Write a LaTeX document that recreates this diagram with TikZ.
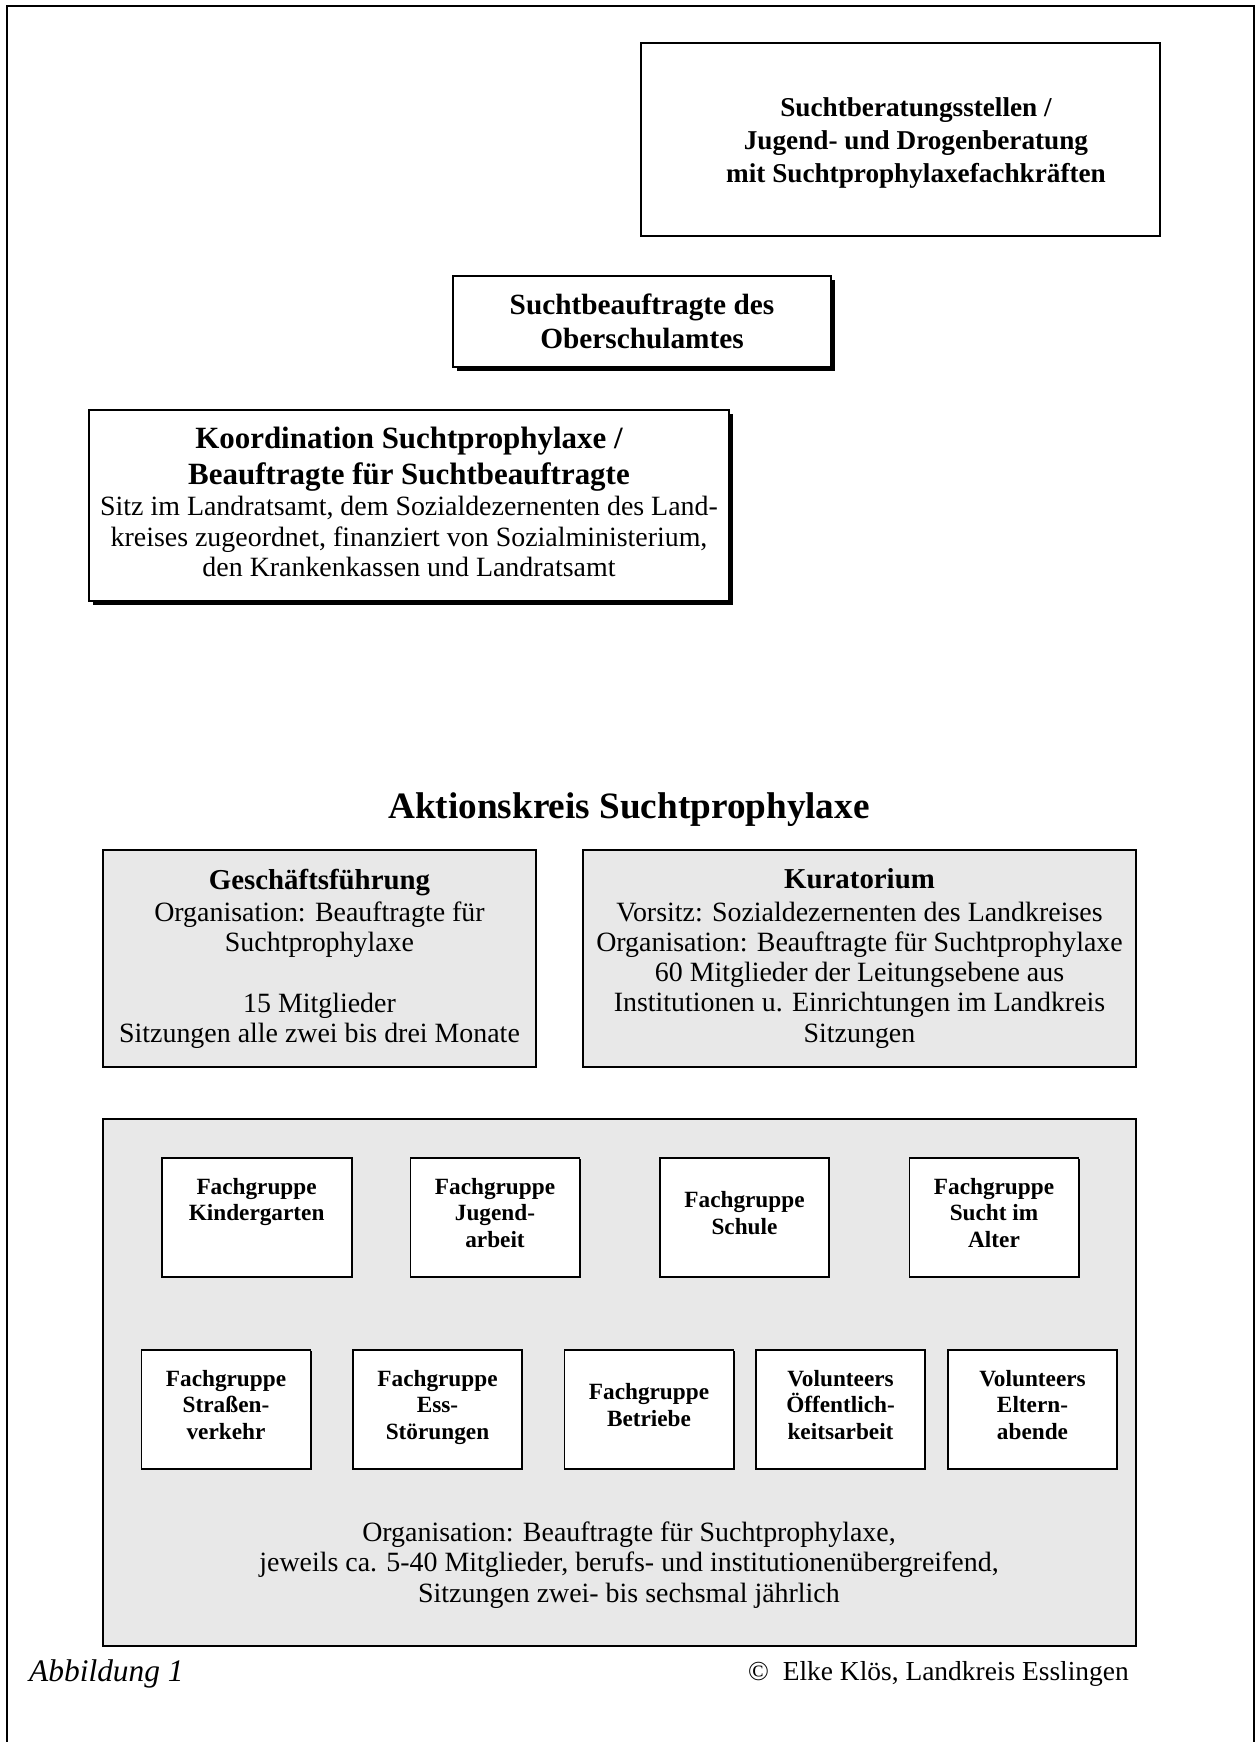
\documentclass[tikz,border=0pt]{standalone}
\usepackage{fontspec}
\setmainfont{Liberation Serif}
\begin{document}
\begin{tikzpicture}[x=0.43pt, y=-0.43pt,
    boxsize/.style 2 args={minimum width=#1*0.43pt, minimum height=#2*0.43pt},
    rahmen/.style={draw, line width=0.8pt, inner sep=0pt, align=center},
    schatten/.style={preaction={fill=black, transform canvas={shift={(#1,-#1)}}}},
    fachbox/.style={rahmen, fill=white, schatten=0.6pt, boxsize={169}{119},
        font=\bfseries\fontsize{10}{11.5}\selectfont,
        execute at end node={\rule[-4pt]{0pt}{4pt}}},
    graubox/.style={rahmen, fill=gray!18, schatten=0.6pt}]
  \useasboundingbox (0,0) rectangle (1257,1742);
  \draw[line width=1pt] (7,1745) -- (7,6) -- (1254,6) -- (1254,1745);

  \node[rahmen, fill=white, boxsize={519}{193}] (beratung) at (900.5,139.5) {};
  \node[align=center, font=\bfseries\fontsize{11.7}{14.2}\selectfont] (beratungtext)
    at ([shift={(15.5,3.5)}]beratung.center) {Suchtberatungsstellen /\\Jugend- und Drogenberatung\\mit Suchtprophylaxefachkräften};
  \node[rahmen, fill=white, schatten=1.6pt, boxsize={378}{91}, font=\bfseries\fontsize{12.6}{14.8}\selectfont]
    (oberschulamt) at (642,321.5) {Suchtbeauftragte des\\Oberschulamtes};
  \node[rahmen, fill=white, schatten=1.6pt, boxsize={640}{191}] (koordination) at (409,505.5) {};
  \node[align=center, font=\fontsize{12}{13}\selectfont] (koordinationtext)
    at ([shift={(0,-3.5)}]koordination.center) {{\bfseries\fontsize{13.3}{15.3}\selectfont Koordination Suchtprophylaxe /}\\[2.2pt]
      {\bfseries\fontsize{13.3}{15.3}\selectfont Beauftragte für Suchtbeauftragte}\\[0.6pt]
      Sitz im Landratsamt, dem Sozialdezernenten des Land-\\kreises zugeordnet, finanziert von Sozialministerium,\\den Krankenkassen und Landratsamt};

  \node[font=\bfseries\fontsize{16}{19}\selectfont] (aktionskreis) at (629,809.5) {Aktionskreis Suchtprophylaxe};

  \node[graubox, boxsize={433}{217}, font=\fontsize{12}{13}\selectfont] (gf) at (319.5,958.5)
    {{\bfseries\fontsize{12.4}{14}\selectfont Geschäftsführung}\\[0.9pt]Organisation: Beauftragte für\\Suchtprophylaxe\\[13pt]15 Mitglieder\\Sitzungen alle zwei bis drei Monate};
  \node[graubox, boxsize={553}{217}, font=\fontsize{12}{13}\selectfont] (kuratorium) at (859.5,958.5)
    {{\bfseries\fontsize{12.4}{14}\selectfont Kuratorium}\\[0.9pt]Vorsitz: Sozialdezernenten des Landkreises\\Organisation: Beauftragte für Suchtprophylaxe\\60 Mitglieder der Leitungsebene aus\\Institutionen u. Einrichtungen im Landkreis\\Sitzungen};

  \node[graubox, boxsize={1033}{527}] (fachgruppen) at (619.5,1382.5) {};
  \node[fachbox, boxsize={190}{119}] (kindergarten) at (256.6,1217.5) {Fachgruppe\\Kindergarten\\\mbox{}};
  \node[fachbox] (jugend) at (495,1217.5) {Fachgruppe\\Jugend-\\arbeit};
  \node[fachbox] (schule) at (744.5,1217.5) {Fachgruppe\\Schule};
  \node[fachbox] (alter) at (994,1217.5) {Fachgruppe\\Sucht im\\Alter};
  \node[fachbox] (verkehr) at (226,1409.5) {Fachgruppe\\Straßen-\\verkehr};
  \node[fachbox] (essen) at (437.5,1409.5) {Fachgruppe\\Ess-\\Störungen};
  \node[fachbox] (betriebe) at (649,1409.5) {Fachgruppe\\Betriebe};
  \node[fachbox] (oeffentlich) at (840.5,1409.5) {Volunteers\\Öffentlich-\\keitsarbeit};
  \node[fachbox] (eltern) at (1032.5,1409.5) {Volunteers\\Eltern-\\abende};
  \node[align=center, font=\fontsize{12}{13.1}\selectfont] (organisation) at (629,1565)
    {Organisation: Beauftragte für Suchtprophylaxe,\\jeweils ca. 5-40 Mitglieder, berufs- und institutionenübergreifend,\\Sitzungen zwei- bis sechsmal jährlich};

  \node[anchor=west, font=\itshape\fontsize{13.5}{16}\selectfont] (abbildung) at (21,1674) {Abbildung 1};
  \node[anchor=east, font=\fontsize{11.8}{14}\selectfont] (copyright) at (1137,1674) {©\ \ Elke Klös, Landkreis Esslingen};
\end{tikzpicture}
\end{document}
